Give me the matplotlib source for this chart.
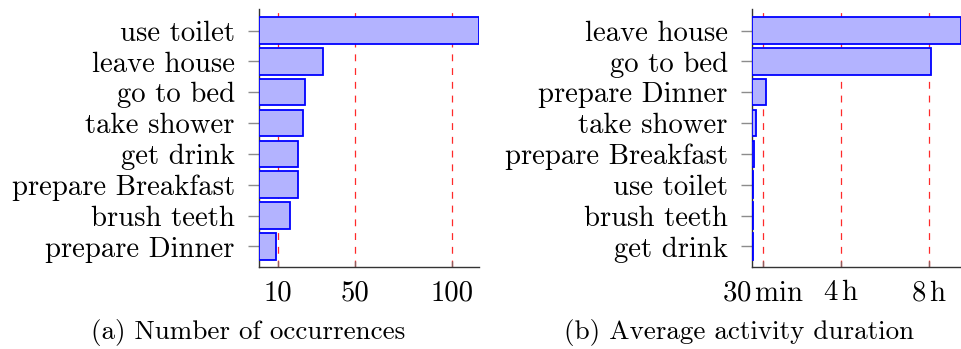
import matplotlib
matplotlib.use("Agg")
import matplotlib.pyplot as plt

plt.rcParams["font.family"] = ["cmr10", "DejaVu Serif"]
plt.rcParams["mathtext.fontset"] = "cm"
plt.rcParams["axes.formatter.use_mathtext"] = True

# (a) number of occurrences per activity (top to bottom)
occ_labels = ["use toilet", "leave house", "go to bed", "take shower",
              "get drink", "prepare Breakfast", "brush teeth", "prepare Dinner"]
occ_values = [114, 33, 24, 23, 20, 20, 16, 9]
occ_ticks = [10, 50, 100]
occ_ticklabels = ["10", "50", "100"]

# (b) average activity duration in minutes (top to bottom)
dur_labels = ["leave house", "go to bed", "prepare Dinner", "take shower",
              "prepare Breakfast", "use toilet", "brush teeth", "get drink"]
dur_values = [566, 486, 37, 12, 5, 3.5, 3, 2.5]
dur_ticks = [30, 240, 480]
dur_ticklabels = [r"$30\,\mathrm{min}$", r"$4\,\mathrm{h}$", r"$8\,\mathrm{h}$"]

FILL = "#b3b3ff"
EDGE = "#0000ff"
FS = 20.7

fig = plt.figure(figsize=(9.61, 3.49), dpi=100)
bottom, top = 1 - 267.3 / 349, 1 - 9.3 / 349
ax1 = fig.add_axes([259 / 961, bottom, (479 - 259) / 961, top - bottom])
ax2 = fig.add_axes([752 / 961, bottom, (961 - 752) / 961, top - bottom])


def draw(ax, labels, values, ticks, ticklabels, xmax):
    n = len(labels)
    ys = list(range(n - 1, -1, -1))
    ax.barh(ys, values, height=0.86, color=FILL, edgecolor=EDGE,
            linewidth=1.3, zorder=5)
    ax.set_xlim(0, xmax)
    ax.set_ylim(-0.68, n - 1 + 0.69)
    ax.set_yticks(ys)
    ax.set_yticklabels(labels, fontsize=FS)
    ax.set_xticks(ticks)
    ax.set_xticklabels(ticklabels, fontsize=FS)
    for t in ticks:
        ax.axvline(t, color="#ff2a2a", linewidth=0.9, linestyle=(0, (5.5, 5.5)),
                   zorder=1)
    for s in ("top", "right"):
        ax.spines[s].set_visible(False)
    for s in ("left", "bottom"):
        ax.spines[s].set_color("#333333")
        ax.spines[s].set_linewidth(1.0)
        ax.spines[s].set_zorder(4)
    ax.tick_params(axis="y", direction="out", length=8, width=1.0,
                   color="#8c8c8c", pad=9.5)
    ax.tick_params(axis="x", direction="in", length=4, width=1.0,
                   color="#8c6060", pad=9)


draw(ax1, occ_labels, occ_values, occ_ticks, occ_ticklabels, max(occ_values))
draw(ax2, dur_labels, dur_values, dur_ticks, dur_ticklabels, max(dur_values))

fig.text(248 / 961, 1 - 332 / 349, "(a) Number of occurrences",
         fontsize=19.5, ha="center", va="center")
fig.text(739 / 961, 1 - 332 / 349, "(b) Average activity duration",
         fontsize=19.5, ha="center", va="center")

fig.savefig("out.png", dpi=100)
